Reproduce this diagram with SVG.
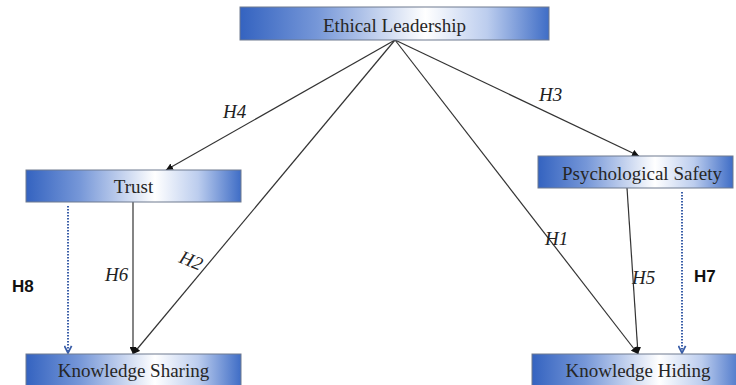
<svg xmlns="http://www.w3.org/2000/svg" width="736" height="385" viewBox="0 0 736 385">
<defs>
<linearGradient id="boxfill" x1="0" y1="0" x2="1" y2="0">
<stop offset="0" stop-color="#3463c0"/>
<stop offset="0.25" stop-color="#7697d8"/>
<stop offset="0.6" stop-color="#ffffff"/>
<stop offset="0.8" stop-color="#bccdee"/>
<stop offset="1" stop-color="#3f6dc6"/>
</linearGradient>
<marker id="arr" viewBox="0 0 10 10" refX="10" refY="5" markerWidth="7" markerHeight="7" markerUnits="userSpaceOnUse" orient="auto">
<path d="M0,0 L10,5 L0,10 Z" fill="#111"/>
</marker>
<marker id="open" viewBox="0 0 10 10" refX="9" refY="5" markerWidth="9" markerHeight="9" markerUnits="userSpaceOnUse" orient="auto">
<path d="M1,1 L9,5 L1,9" fill="none" stroke="#3a5ea8" stroke-width="2"/>
</marker>
</defs>
<style>
.box{fill:url(#boxfill);stroke:#6f7a8f;stroke-width:1}
.lbl{font-family:"Liberation Serif","Times New Roman",serif;font-size:19px;fill:#262626;text-anchor:middle}
.line{stroke:#333;stroke-width:1.2;fill:none;marker-end:url(#arr)}
.dot{stroke:#3a5ea8;stroke-width:2;stroke-dasharray:1.5 1.5;fill:none;marker-end:url(#open)}
.h{font-family:"Liberation Serif","Times New Roman",serif;font-style:italic;font-size:19px;fill:#222}
.hb{font-family:"Liberation Sans",Arial,sans-serif;font-weight:bold;font-size:17px;fill:#111}
</style>
<rect width="736" height="385" fill="#ffffff"/>
<g id="connectors">
<line class="line" x1="395" y1="40" x2="166" y2="170"/>
<line class="line" x1="395" y1="40" x2="133" y2="354"/>
<line class="line" x1="395" y1="40" x2="638" y2="354"/>
<line class="line" x1="395" y1="40" x2="639" y2="156"/>
<line class="line" x1="133" y1="202" x2="133" y2="354"/>
<line class="line" x1="627" y1="188" x2="638" y2="354"/>
<line class="dot" x1="68" y1="206" x2="68" y2="353"/>
<line class="dot" x1="682" y1="192" x2="682" y2="353"/>
</g>
<g id="edge-labels">
<text class="h" x="223" y="118">H4</text>
<text class="h" x="539" y="101">H3</text>
<text class="h" x="105" y="281">H6</text>
<text class="h" transform="translate(178,262) rotate(22)">H2</text>
<text class="h" x="545" y="245">H1</text>
<text class="h" x="632" y="284">H5</text>
<text class="hb" x="12" y="292">H8</text>
<text class="hb" x="694" y="282">H7</text>
</g>
<g id="ethical-leadership">
<rect class="box" x="240" y="7" width="309" height="33"/>
<text class="lbl" x="394.5" y="32">Ethical Leadership</text>
</g>
<g id="trust">
<rect class="box" x="26" y="170" width="215" height="32"/>
<text class="lbl" x="133.5" y="193">Trust</text>
</g>
<g id="psychological-safety">
<rect class="box" x="538" y="156" width="195" height="32"/>
<text class="lbl" x="642" y="180">Psychological Safety</text>
</g>
<g id="knowledge-sharing">
<rect class="box" x="26" y="354" width="215" height="33"/>
<text class="lbl" x="133.5" y="377">Knowledge Sharing</text>
</g>
<g id="knowledge-hiding">
<rect class="box" x="532" y="354" width="212" height="33"/>
<text class="lbl" x="638" y="377">Knowledge Hiding</text>
</g>
</svg>
